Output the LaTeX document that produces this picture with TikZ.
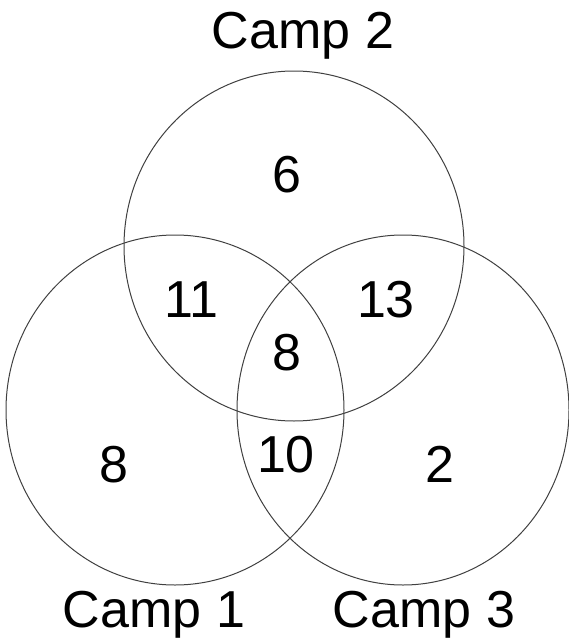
\documentclass[tikz,border=0pt]{standalone}
\usepackage{fontspec}
\setmainfont{Liberation Sans}
\usetikzlibrary{shapes.geometric}
\begin{document}
\begin{tikzpicture}[x=1pt,y=-1pt,
  setring/.style={draw=black!75,line width=1pt,ellipse,inner sep=0pt},
  lbl/.style={anchor=base,inner sep=0pt,font=\fontsize{52}{60}\selectfont}]
\useasboundingbox (0,0) rectangle (568,640);
\node[setring,minimum width=340pt,minimum height=350pt] (c2) at (294,246) {};
\node[setring,minimum width=338pt,minimum height=350pt] (c1) at (175,410) {};
\node[setring,minimum width=332pt,minimum height=350pt] (c3) at (403,410) {};
\node[lbl] (t2) at (303,48) {Camp 2};
\node[lbl] (t1) at (154,627) {Camp 1};
\node[lbl] (t3) at (424,627) {Camp 3};
\node[lbl] (n6) at (287,192) {6};
\node[lbl] (n11) at (191,317) {11};
\node[lbl] (n13) at (386,317) {13};
\node[lbl] (n8c) at (287,370) {8};
\node[lbl] (n8) at (114,482) {8};
\node[lbl] (n10) at (286,472) {10};
\node[lbl] (n2) at (440,482) {2};
\end{tikzpicture}
\end{document}
